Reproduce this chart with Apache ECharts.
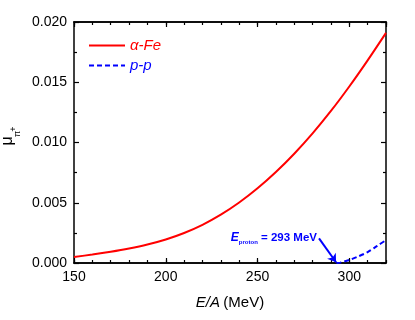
<!DOCTYPE html>
<html>
<head>
<meta charset="utf-8">
<script src="https://cdn.jsdelivr.net/npm/echarts@6/dist/echarts.min.js"></script>
<style>
  html, body { margin: 0; padding: 0; background: #fff; }
  #main { width: 415px; height: 320px; }
</style>
</head>
<body>
<div id="main"></div>
<script>
// values
const energy = [150, 160, 170, 180, 190, 200, 210, 220, 230, 240, 250, 260, 270, 280, 290, 300, 310, 320];
const alphaFe = [0.00050, 0.00070, 0.00093, 0.00120, 0.00153, 0.00195, 0.00249, 0.00317, 0.00401, 0.00502,
                 0.00620, 0.00755, 0.00907, 0.01076, 0.01262, 0.01465, 0.01682, 0.01910];
const ppEnergy = [293, 295, 300, 305, 310, 315, 320];
const ppMu = [0, 0.00003, 0.00025, 0.00055, 0.0009, 0.0014, 0.0019];
const xTicks = [150, 200, 250, 300];

const font = 'Liberation Sans, Arial, sans-serif';

let myChart = echarts.init(document.getElementById('main'));

function tickStyle(len) {
    return { show: true, inside: true, length: len, lineStyle: { color: '#000', width: 1.2 } };
}

function xAxisDef(pos, interval, tick) {
    return {
        type: 'value', position: pos, min: 150, max: 320, interval: interval,
        axisLine: { show: true, onZero: false, lineStyle: { color: '#000', width: 1.5 } },
        axisTick: tick,
        axisLabel: {
            show: pos === 'bottom' && interval === 50, margin: 7, color: '#000', fontSize: 14, fontFamily: font,
            showMaxLabel: false,
            formatter: function (v) { return xTicks.indexOf(v) >= 0 ? String(v) : ''; }
        },
        splitLine: { show: false }
    };
}
function yAxisDef(pos, tick) {
    return {
        type: 'value', position: pos, min: 0, max: 0.02, interval: 0.005,
        axisLine: { show: true, onZero: false, lineStyle: { color: '#000', width: 1.5 } },
        axisTick: tick,
        minorTick: { show: true, splitNumber: 2, length: 3, lineStyle: { color: '#000', width: 1.2 } },
        axisLabel: {
            show: pos === 'left', margin: 7, color: '#000', fontSize: 14, fontFamily: font,
            formatter: function (v) { return v.toFixed(3); }
        },
        splitLine: { show: false }
    };
}

let xBottom = xAxisDef('bottom', 50, tickStyle(5));
xBottom.name = '{i|E/A} {n|(MeV)}';
xBottom.nameLocation = 'middle';
xBottom.nameGap = 32;
xBottom.nameTextStyle = {
    rich: {
        i: { fontStyle: 'italic', fontSize: 15, fontFamily: font, color: '#000' },
        n: { fontSize: 15, fontFamily: font, color: '#000' }
    }
};

let option = {
    animation: false,
    grid: { left: 74, right: 29, top: 22, bottom: 57 },
    legend: {
        orient: 'vertical', left: 84, top: 33, itemWidth: 36, itemHeight: 14, itemGap: 5,
        textStyle: { fontSize: 15, fontStyle: 'italic', fontFamily: font },
        data: [
            { name: 'α-Fe', icon: 'path://M0,0 L36,0 L36,2 L0,2 Z', itemStyle: { color: '#ff0000' }, textStyle: { color: '#ff0000' } },
            { name: 'p-p', icon: 'path://M0,0 h5 v2 h-5 Z M8,0 h5 v2 h-5 Z M16,0 h5 v2 h-5 Z M24,0 h5 v2 h-5 Z M32,0 h4 v2 h-4 Z', itemStyle: { color: '#0000ff' }, textStyle: { color: '#0000ff' } }
        ]
    },
    xAxis: [
        xBottom,
        xAxisDef('bottom', 10, tickStyle(3)),
        xAxisDef('top', 50, tickStyle(5)),
        xAxisDef('top', 10, tickStyle(3))
    ],
    yAxis: [
        yAxisDef('left', tickStyle(5)),
        yAxisDef('right', tickStyle(5))
    ],
    graphic: [
        {
            type: 'group', x: 8, y: 141, rotation: Math.PI / 2,
            children: [
                { type: 'text', x: 0, y: 0, style: { text: 'μ', font: '16px ' + font, fill: '#000', align: 'center', verticalAlign: 'middle' } },
                { type: 'text', x: 7, y: 10, style: { text: 'π', font: '9px ' + font, fill: '#000', align: 'center', verticalAlign: 'middle' } },
                { type: 'text', x: 12, y: 6, style: { text: '+', font: '9px ' + font, fill: '#000', align: 'center', verticalAlign: 'middle' } }
            ]
        },
        {
            type: 'text', x: 317, y: 238,
            style: {
                text: '{e|E}{s|proton}{b| = 293 MeV}',
                align: 'right', verticalAlign: 'middle',
                rich: {
                    e: { font: 'italic bold 12px ' + font, fill: '#0000ff' },
                    s: { font: 'bold 6px ' + font, fill: '#0000ff', padding: [8, 0, 0, 0] },
                    b: { font: 'bold 11.5px ' + font, fill: '#0000ff' }
                }
            }
        }
    ],
    series: [
        {
            name: 'α-Fe', type: 'line', xAxisIndex: 0, yAxisIndex: 0,
            data: energy.map((e, i) => [e, alphaFe[i]]),
            showSymbol: false, symbol: 'none', smooth: 0.3,
            lineStyle: { color: '#ff0000', width: 2 }, itemStyle: { color: '#ff0000' }
        },
        {
            name: 'p-p', type: 'line', xAxisIndex: 0, yAxisIndex: 0,
            data: ppEnergy.map((e, i) => [e, ppMu[i]]),
            showSymbol: false, symbol: 'none', smooth: 0.3,
            lineStyle: { color: '#0000ff', width: 2, type: [5, 3] }, itemStyle: { color: '#0000ff' },
            markLine: {
                silent: true, symbol: ['none', 'arrow'], symbolSize: 8,
                label: { show: false },
                lineStyle: { color: '#0000ff', width: 2, type: 'solid' },
                data: [[{ coord: [283.5, 0.00205] }, { coord: [292.8, 0.00006] }]]
            }
        }
    ]
};
myChart.setOption(option);
</script>
</body>
</html>
